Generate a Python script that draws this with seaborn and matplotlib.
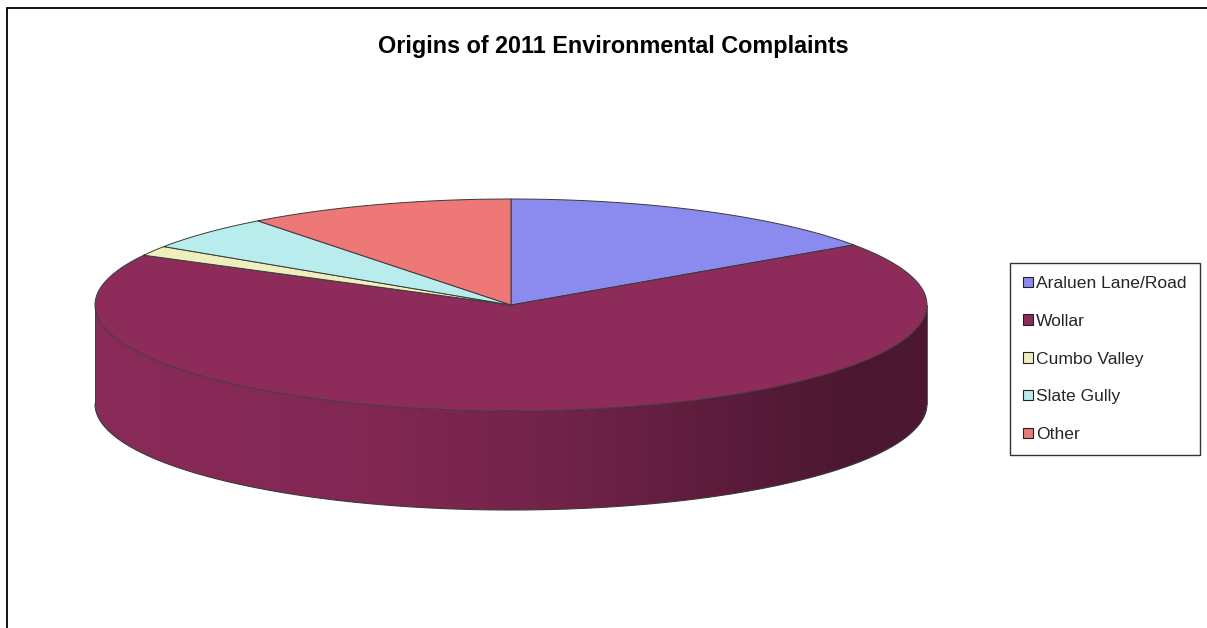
import numpy as np
import matplotlib
matplotlib.use("Agg")
import matplotlib.pyplot as plt
import seaborn as sns
from matplotlib.patches import Polygon, Patch
from matplotlib.colors import to_rgb

categories = ["Araluen Lane/Road", "Wollar", "Cumbo Valley", "Slate Gully", "Other"]
values = [15.4, 67.3, 1.5, 5.3, 10.4]
colors = ["#8B8BEF", "#8D2B5B", "#EFEFBD", "#B9EDED", "#EE7777"]
title = "Origins of 2011 Environmental Complaints"

sns.set_theme(style="white")
plt.rcParams['font.family'] = ['Liberation Sans', 'DejaVu Sans']

W, H = 1207, 628
fig = plt.figure(figsize=(W / 100, H / 100), dpi=100)
ax = fig.add_axes([0, 0, 1, 1])
ax.set_xlim(0, W)
ax.set_ylim(H, 0)
ax.axis('off')

# chart border
ax.plot([7, 7, W + 5], [H + 5, 8, 8], color='black', lw=1.3, solid_joinstyle='miter')

cx, cy, a, b, depth = 511, 305, 416, 106, 99
edge = '#3a3a3a'

def arc(t0, t1, n=200, dy=0):
    t = np.linspace(t0, t1, n)
    return np.column_stack([cx + a * np.cos(t), cy - b * np.sin(t) + dy])

fr = np.array(values, dtype=float) / np.sum(values)
bounds = np.pi / 2 - 2 * np.pi * np.concatenate([[0], np.cumsum(fr)])

# side walls (front half only)
u = np.linspace(0, 1, 400)
shade = np.interp(u, [0, 0.3, 0.5, 0.75, 0.92, 1.0], [0.98, 0.92, 0.84, 0.66, 0.53, 0.55])
for i in range(len(values)):
    lo = max(bounds[i + 1], -np.pi)
    hi = min(bounds[i], 0.0)
    if lo >= hi:
        continue
    top = arc(hi, lo)
    bot = arc(lo, hi, dy=depth)
    poly = Polygon(np.vstack([top, bot]), closed=True, facecolor='none', edgecolor='none')
    ax.add_patch(poly)
    base = np.array(to_rgb(colors[i]))
    img = np.clip(shade[None, :, None] * base[None, None, :], 0, 1)
    im = ax.imshow(img, extent=(cx - a, cx + a, cy + b + depth, cy - b), aspect='auto',
                   interpolation='bilinear', zorder=1)
    im.set_clip_path(poly)
    ax.plot(bot[:, 0], bot[:, 1], color=edge, lw=0.8, zorder=2)

ax.plot([cx - a, cx - a], [cy, cy + depth], color=edge, lw=0.6, zorder=2)
ax.plot([cx + a, cx + a], [cy, cy + depth], color=edge, lw=0.6, zorder=2)

# top faces
for i in range(len(values)):
    pts = np.vstack([[cx, cy], arc(bounds[i], bounds[i + 1])])
    ax.add_patch(Polygon(pts, closed=True, facecolor=colors[i], edgecolor=edge, lw=0.7,
                         joinstyle='round', zorder=3))

ax.text(613, 46, title, ha='center', va='center', fontsize=16.8, fontweight='bold', color='black')

handles = [Patch(facecolor=c, edgecolor='#222222', lw=0.8) for c in colors]
leg = ax.legend(handles, categories, loc='upper left',
                bbox_to_anchor=(1010 / W, 1 - 263 / H), bbox_transform=fig.transFigure,
                fontsize=12.6, frameon=True, fancybox=False, edgecolor='black',
                handlelength=0.55, handleheight=0.55, handletextpad=0.2,
                labelspacing=1.3, borderpad=0.75, borderaxespad=0)
leg.get_frame().set_linewidth(1.0)
leg.get_frame().set_facecolor('white')

fig.savefig("out.png", dpi=100, facecolor='white')
